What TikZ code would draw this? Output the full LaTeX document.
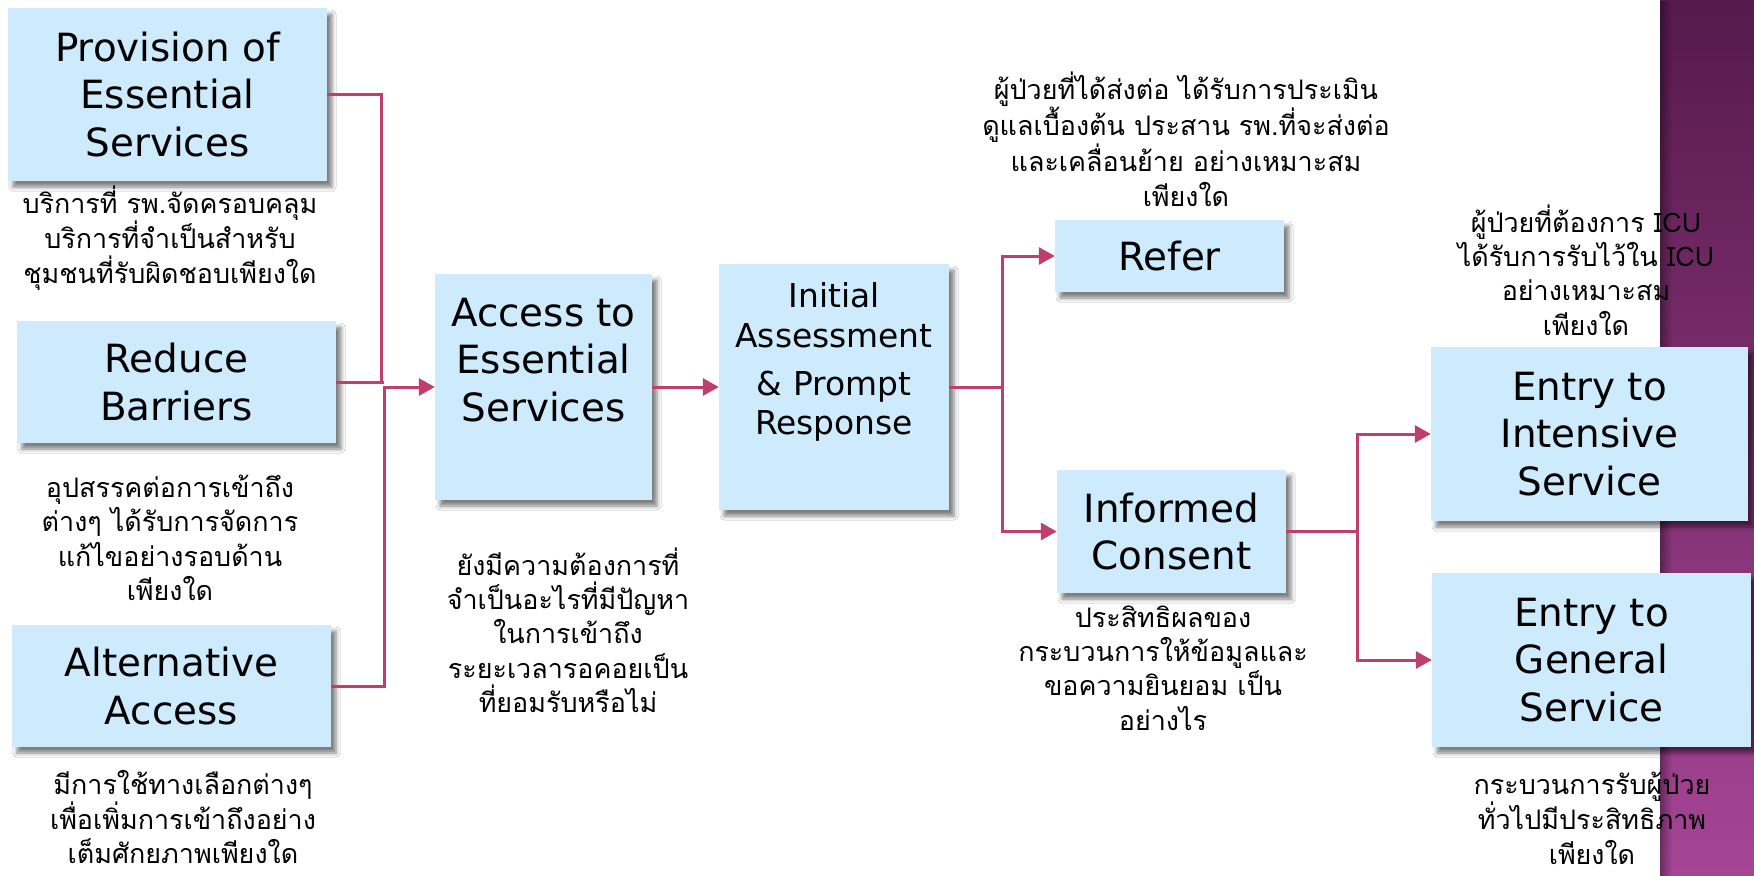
\documentclass[tikz,border=0pt]{standalone}
\usepackage{fontspec}
\setmainfont{DejaVu Sans}
\newfontfamily\thaifont[Script=Thai]{Loma}
\usetikzlibrary{arrows.meta,shadows.blur,fadings}
\definecolor{boxfill}{HTML}{CDEBFC}
\definecolor{linkcol}{HTML}{BF3F6B}
\definecolor{bandtop}{HTML}{561A4C}
\definecolor{bandbot}{HTML}{A64596}

\begin{document}
\begin{tikzpicture}[x=1bp,y=-1bp,
  box/.style={fill=boxfill, inner sep=0pt, align=center,
    blur shadow={shadow xshift=5bp, shadow yshift=-6bp,
      shadow blur radius=4bp, shadow opacity=50},
    font=\fontsize{39}{48}\selectfont},
  boxtext/.style={align=center, inner sep=0pt},
  note/.style={align=center, inner sep=0pt,
    font=\thaifont\fontsize{27}{34.5}\selectfont},
  link/.style={draw=linkcol, line width=3bp},
  arrow/.style={link, -{Triangle[length=16bp,width=17bp]}}]

% canvas and side band
\useasboundingbox (0,0) rectangle (1754,876);
\fill[white] (0,0) rectangle (1754,876);
\shade[top color=bandtop, bottom color=bandbot] (1660,0) rectangle (1754,876);
\fill[black, opacity=0.35, path fading=east] (1660,0) rectangle (1672,876);

% left column
\node[box, minimum width=319bp, minimum height=173bp] (prov) at (167.5,94.5)
  {Provision of\\Essential\\Services};
\node[box, minimum width=319bp, minimum height=122bp] (red) at (176.5,382)
  {Reduce\\Barriers};
\node[box, minimum width=319bp, minimum height=122bp] (alt) at (171.5,686)
  {Alternative\\Access};

% middle column
\node[box, minimum width=217bp, minimum height=226bp] (acc) at (543.5,387) {};
\node[boxtext, font=\fontsize{39}{48}\selectfont] (acct) at (543.5,360)
  {Access to\\Essential\\Services};
\node[box, minimum width=230bp, minimum height=246bp] (ini) at (834,387) {};
\node[boxtext, font=\fontsize{33}{40}\selectfont] (init) at (834,362)
  {Initial\\Assessment\\[8bp]\& Prompt\\Response};

% decision column
\node[box, minimum width=229bp, minimum height=72bp] (ref) at (1169.5,256) {Refer};
\node[box, minimum width=229bp, minimum height=123bp] (inf) at (1171.5,531.5)
  {Informed\\Consent};

% right column
\node[box, minimum width=317bp, minimum height=174bp] (int) at (1589.5,434)
  {Entry to\\Intensive\\Service};
\node[box, minimum width=319bp, minimum height=174bp] (gen) at (1591.5,660)
  {Entry to\\General\\Service};

% connectors
\coordinate (jA) at (381,383);
\coordinate (jB) at (384,387);
\draw[link] (prov.east) -| (jA);
\draw[link] (red.east) -- (red.east -| jB);
\draw[arrow] (alt.east) -| (jB) -- (acc.west);
\draw[arrow] (acc.east) -- (ini.west);
\coordinate (s1) at (1002,387);
\draw[link] (ini.east) -- (s1);
\draw[arrow] (s1) |- (ref.west);
\draw[arrow] (s1) |- (inf.west);
\coordinate (s2) at (1357,531.5);
\draw[link] (inf.east) -- (s2);
\draw[arrow] (s2) |- (int.west);
\draw[arrow] (s2) |- (gen.west);

% questions
\node[note] (d1) at (170,238) {บริการที่ รพ.จัดครอบคลุม\\บริการที่จำเป็นสำหรับ\\ชุมชนที่รับผิดชอบเพียงใด};
\node[note] (d2) at (170,538) {อุปสรรคต่อการเข้าถึง\\ต่างๆ ได้รับการจัดการ\\แก้ไขอย่างรอบด้าน\\เพียงใด};
\node[note] (d3) at (183,817) {มีการใช้ทางเลือกต่างๆ\\เพื่อเพิ่มการเข้าถึงอย่าง\\เต็มศักยภาพเพียงใด};
\node[note] (d4) at (568,630) {ยังมีความต้องการที่\\จำเป็นอะไรที่มีปัญหา\\ในการเข้าถึง\\ระยะเวลารอคอยเป็น\\ที่ยอมรับหรือไม่};
\node[note] (d5) at (1186,139) {ผู้ป่วยที่ได้ส่งต่อ ได้รับการประเมิน\\ดูแลเบื้องต้น ประสาน รพ.ที่จะส่งต่อ\\และเคลื่อนย้าย อย่างเหมาะสม\\เพียงใด};
\node[note] (d6) at (1163,668) {ประสิทธิผลของ\\กระบวนการให้ข้อมูลและ\\ขอความยินยอม เป็น\\อย่างไร};
\node[note] (d7) at (1586,270) {ผู้ป่วยที่ต้องการ ICU\\ได้รับการรับไว้ใน ICU\\อย่างเหมาะสม\\เพียงใด};
\node[note] (d8) at (1592,818) {กระบวนการรับผู้ป่วย\\ทั่วไปมีประสิทธิภาพ\\เพียงใด};
\end{tikzpicture}
\end{document}
